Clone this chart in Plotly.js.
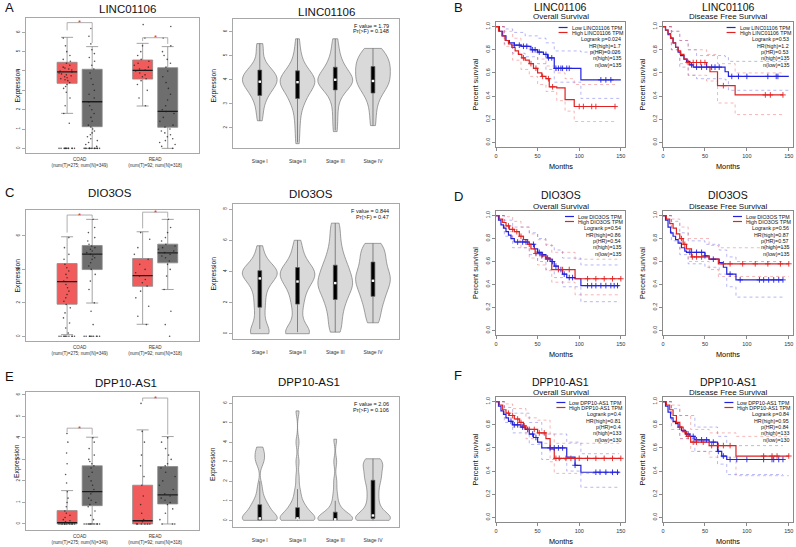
<!DOCTYPE html>
<html><head><meta charset="utf-8">
<script src="https://cdn.plot.ly/plotly-3.0.1.min.js"></script>
<style>body{margin:0;background:#fff}#chart{width:796px;height:547px}</style>
</head><body><div id="chart"></div>
<script>
// ---------------- DATA ----------------
const genes = ['LINC01106','DIO3OS','DPP10-AS1'];
const panelLetters = [['A','B'],['C','D'],['E','F']];
const boxTickText = ['COAD<br>(num(T)=275; num(N)=349)','READ<br>(num(T)=92; num(N)=318)'];
const stageLabels = ['Stage I','Stage II','Stage III','Stage IV'];

// box statistics, [COAD, READ]
const A_T_q1=[3.36,3.58], A_T_med=[3.95,4.03], A_T_q3=[4.45,4.57], A_T_lo=[1.81,2.19], A_T_hi=[5.74,5.43];
const A_N_q1=[1.12,1.09], A_N_med=[2.41,1.91], A_N_q3=[4.09,4.17], A_N_lo=[0,0], A_N_hi=[5.26,5.26];
const C_T_q1=[1.92,2.99], C_T_med=[3.27,3.63], C_T_q3=[4.35,4.65], C_T_lo=[0.1,0.72], C_T_hi=[5.95,6.25];
const C_N_q1=[3.99,4.39], C_N_med=[4.91,4.99], C_N_q3=[5.43,5.51], C_N_lo=[1.99,2.8], C_N_hi=[6.99,6.99];
const E_T_q1=[0,0], E_T_med=[0.06,0.15], E_T_q3=[0.62,1.8], E_T_lo=[0,0], E_T_hi=[1.55,4.37];
const E_N_q1=[0.85,0.93], E_N_med=[1.5,1.35], E_N_q3=[2.7,2.67], E_N_lo=[0,0], E_N_hi=[4.03,4.06];

// jittered sample points (approximate)
const A_CT=[0,0,0,0,0,0,0,0,0,0,0,0,1.3,1.8,2.2,2.6,2.9,3.1,3.2,3.3,3.4,3.5,3.55,3.6,3.65,3.7,3.75,3.8,3.85,3.9,3.95,4.0,4.05,4.1,4.15,4.2,4.3,4.4,4.5,4.6,4.8,5.0,5.3,5.7];
const A_CN=[0,0,0,0,0,0,0,0,0,0,0,0,0.1,0.2,0.3,0.4,0.5,0.6,0.7,0.8,0.9,1.0,1.1,1.2,1.4,1.6,1.8,2.0,2.2,2.4,2.6,2.8,3.0,3.3,3.6,3.9,4.1,4.3,4.5,4.7,4.9,5.1,5.4,5.8,6.2];
const A_RT=[2.2,2.6,3.0,3.3,3.5,3.6,3.7,3.8,3.9,4.0,4.05,4.1,4.2,4.3,4.4,4.5,4.6,4.8,5.0,5.3,5.7,6.4];
const A_RN=[0,0.1,0.2,0.3,0.4,0.5,0.6,0.7,0.8,0.9,1.0,1.1,1.2,1.4,1.6,1.8,1.9,2.0,2.2,2.5,2.8,3.1,3.4,3.7,4.0,4.2,4.4,4.6,4.8,5.0,5.3,5.7,6.3];
const C_CT=[0,0,0,0,0,0,0,0,0,0,0.2,0.5,0.8,1.1,1.4,1.7,1.9,2.1,2.3,2.5,2.7,2.9,3.1,3.3,3.5,3.7,3.9,4.1,4.3,4.6,4.9,5.3,5.9];
const C_CN=[0,0,0,0,0,0,0,0,0,0,0.7,1.5,2.0,2.8,3.3,3.7,4.0,4.2,4.4,4.6,4.7,4.8,4.9,5.0,5.1,5.2,5.3,5.4,5.5,5.7,5.9,6.2,6.5,7.0];
const C_RT=[0.7,1.2,1.8,2.3,2.7,3.0,3.2,3.4,3.6,3.8,4.0,4.3,4.6,4.9,5.3,5.8,6.2];
const C_RN=[0,0.7,1.5,2.8,3.6,4.0,4.3,4.5,4.7,4.8,4.9,5.0,5.1,5.2,5.3,5.4,5.5,5.7,5.9,6.2,6.5,7.0];
const E_CT=[0,0,0,0,0,0,0,0,0,0,0.05,0.1,0.15,0.2,0.3,0.4,0.5,0.6,0.8,1.0,1.2,1.5,1.9,2.3,2.8,3.3,3.8,4.2];
const E_CN=[0,0,0,0,0,0,0,0,0,0,0.2,0.4,0.6,0.8,0.9,1.0,1.1,1.2,1.4,1.5,1.6,1.8,2.0,2.2,2.4,2.6,2.7,2.8,2.9,3.0,3.2,3.5,3.8,4.0];
const E_RT=[0,0,0,0,0,0,0.1,0.2,0.5,0.9,1.3,1.8,2.2,2.7,3.2,3.8,4.3,5.6];
const E_RN=[0,0,0,0.2,0.5,0.7,0.9,1.0,1.1,1.2,1.3,1.4,1.6,1.8,2.0,2.2,2.4,2.6,2.7,2.8,3.0,3.2,3.5,3.8,4.0];

// violin samples per stage
const vA1=[2.3,2.5,2.8,3.0,3.2,3.3,3.4,3.5,3.6,3.65,3.7,3.75,3.8,3.85,3.9,3.95,4.0,4.0,4.05,4.1,4.1,4.15,4.2,4.25,4.3,4.35,4.4,4.5,4.6,4.8,5.2,5.4,5.5];
const vA2=[1.35,1.8,2.2,2.5,2.8,3.0,3.1,3.2,3.3,3.4,3.5,3.6,3.65,3.7,3.75,3.8,3.85,3.9,3.9,3.95,4.0,4.05,4.1,4.15,4.2,4.25,4.3,4.4,4.5,4.6,4.8,5.0,5.3,5.7];
const vA3=[1.85,2.3,2.7,3.1,3.3,3.5,3.6,3.7,3.75,3.8,3.85,3.9,3.95,4.0,4.0,4.05,4.1,4.15,4.2,4.3,4.4,4.5,4.6,4.7,4.9,5.1,5.4,5.7];
const vA4=[2.1,2.6,3.0,3.3,3.45,3.6,3.7,3.8,3.9,3.95,4.0,4.1,4.2,4.3,4.4,4.5,4.55,4.6,4.7,4.8,4.9,5.0,5.1,5.2,5.3];
const vC1=[0,0,0,0,0,0.3,0.6,1.0,1.4,1.7,2.0,2.3,2.6,2.9,3.1,3.3,3.5,3.6,3.7,3.8,3.85,3.9,3.95,4.0,4.05,4.1,4.2,4.3,4.5,4.8,5.2,5.65];
const vC2=[0,0,0,0,0,0.1,0.5,1.0,1.5,1.9,2.2,2.5,2.8,3.0,3.2,3.35,3.5,3.6,3.7,3.8,3.9,4.0,4.1,4.2,4.3,4.5,4.8,5.1,5.5,6.0];
const vC3=[0.1,0.5,1.0,1.4,1.8,2.1,2.3,2.6,2.8,3.0,3.1,3.25,3.4,3.6,3.8,4.0,4.2,4.4,4.7,5.0,5.4,5.9,6.5,7.1];
const vC4=[0.7,1.2,1.7,2.1,2.4,2.7,3.0,3.2,3.4,3.6,3.8,4.0,4.3,4.6,4.9,5.2,5.5,5.8];
const vE1=[0,0,0,0,0,0,0.05,0.1,0.15,0.2,0.3,0.4,0.5,0.6,0.7,0.8,0.9,1.1,1.4,1.8,2.9,3.1,3.3,3.5,3.75];
const vE2=[0,0,0,0,0,0,0.05,0.1,0.15,0.2,0.3,0.4,0.5,0.6,0.7,0.8,1.0,1.3,1.6,2.2,3.0,4.0,5.6];
const vE3=[0,0,0,0,0,0,0.02,0.05,0.1,0.15,0.2,0.3,0.4,0.5,0.7,1.0,1.4,2.0,3.0,4.15];
const vE4=[0,0,0,0.05,0.1,0.2,0.3,0.5,0.7,1.0,1.3,1.6,1.9,2.1,2.3,2.5,2.7,2.9,3.0,3.15];
// inner box of each violin: q1, median, q3, whisker low, whisker high
const vA_q1=[3.35,3.22,3.58,3.45], vA_med=[3.92,3.9,4.0,3.95], vA_q3=[4.4,4.37,4.52,4.55], vA_lo=[2.3,1.4,1.9,2.1], vA_hi=[5.5,5.7,5.7,5.3];
const vC_q1=[1.7,1.9,2.2,2.4], vC_med=[3.55,3.35,3.25,3.4], vC_q3=[4.05,4.25,4.4,4.6], vC_lo=[0.3,0.1,0.1,0.7], vC_hi=[5.65,6.0,7.1,5.8];
const vE_q1=[0.02,0.1,0.02,0.1], vE_med=[0.1,0.1,0.05,0.25], vE_q3=[0.8,0.65,0.42,2.05], vE_lo=[0,0,0,0], vE_hi=[2.0,1.6,1.0,3.15];
const fText=[['F value = 1.79','Pr(>F) = 0.148'],['F value = 0.844','Pr(>F) = 0.47'],['F value = 2.06','Pr(>F) = 0.106']];

// Kaplan-Meier curves (months, survival)
const B_OS_low_t=[0,4,8,12,16,22,30,42,50,57,62,70,102,150];
const B_OS_low_s=[1,0.96,0.92,0.88,0.86,0.84,0.83,0.80,0.78,0.76,0.73,0.64,0.54,0.54];
const B_OS_high_t=[0,3,7,11,15,19,23,27,31,35,40,45,50,55,60,64,73,83,94,143];
const B_OS_high_s=[1,0.96,0.92,0.88,0.85,0.82,0.79,0.76,0.73,0.71,0.68,0.64,0.60,0.57,0.55,0.48,0.47,0.37,0.31,0.31];
const B_DFS_low_t=[0,3,6,9,12,15,18,21,25,28,32,36,74,78,150];
const B_DFS_low_s=[1,0.97,0.93,0.9,0.86,0.82,0.78,0.75,0.72,0.7,0.67,0.65,0.61,0.57,0.57];
const B_DFS_high_t=[0,3,6,9,12,15,18,21,25,29,52,56,65,86,143];
const B_DFS_high_s=[1,0.97,0.94,0.9,0.86,0.82,0.79,0.76,0.72,0.69,0.65,0.61,0.49,0.41,0.41];
const D_OS_low_t=[0,3,6,9,12,15,18,22,40,46,50,55,60,65,70,75,80,85,95,102,148];
const D_OS_low_s=[1,0.96,0.92,0.89,0.86,0.83,0.80,0.77,0.75,0.71,0.68,0.66,0.63,0.60,0.56,0.53,0.49,0.46,0.45,0.39,0.39];
const D_OS_high_t=[0,4,8,12,16,22,28,33,38,42,47,55,60,67,95,150];
const D_OS_high_s=[1,0.97,0.94,0.91,0.88,0.86,0.82,0.79,0.75,0.71,0.67,0.65,0.62,0.53,0.45,0.45];
const D_DFS_low_t=[0,3,6,9,12,15,18,22,26,28,50,55,67,72,76,87,143];
const D_DFS_low_s=[1,0.96,0.9,0.85,0.82,0.79,0.76,0.72,0.69,0.68,0.65,0.62,0.59,0.55,0.49,0.44,0.44];
const D_DFS_high_t=[0,4,8,12,16,20,24,28,34,55,66,150];
const D_DFS_high_s=[1,0.97,0.93,0.89,0.84,0.8,0.75,0.71,0.64,0.62,0.58,0.58];
const F_OS_low_t=[0,3,6,9,12,15,20,30,35,40,45,50,55,85,95,102,148];
const F_OS_low_s=[1,0.96,0.92,0.89,0.86,0.83,0.8,0.78,0.76,0.72,0.69,0.65,0.6,0.52,0.45,0.39,0.39];
const F_OS_high_t=[0,4,8,12,16,22,28,33,36,50,60,65,70,150];
const F_OS_high_s=[1,0.97,0.93,0.9,0.88,0.85,0.82,0.79,0.76,0.73,0.68,0.59,0.51,0.51];
const F_DFS_low_t=[0,3,6,9,12,15,18,22,27,32,38,55,65,70,76,143];
const F_DFS_low_s=[1,0.96,0.91,0.86,0.83,0.81,0.78,0.75,0.72,0.7,0.67,0.65,0.57,0.53,0.5,0.5];
const F_DFS_high_t=[0,4,8,12,16,20,24,28,33,55,87,150];
const F_DFS_high_s=[1,0.97,0.93,0.88,0.82,0.78,0.74,0.7,0.65,0.62,0.53,0.53];

// 95% confidence bands
const B_OS_ciL_t=[0,10,20,35,50,60,70,102,150], B_OS_ciL_up=[1,0.98,0.95,0.92,0.9,0.86,0.79,0.78,0.78], B_OS_ciL_dn=[1,0.85,0.77,0.74,0.68,0.63,0.52,0.38,0.38];
const B_OS_ciH_t=[0,10,20,30,40,50,60,73,83,94,143], B_OS_ciH_up=[1,0.96,0.9,0.84,0.78,0.72,0.66,0.6,0.55,0.5,0.5], B_OS_ciH_dn=[1,0.83,0.71,0.63,0.57,0.5,0.44,0.36,0.27,0.18,0.18];
const B_DFS_ciL_t=[0,10,20,30,40,74,78,150], B_DFS_ciL_up=[1,0.96,0.88,0.8,0.75,0.74,0.7,0.7], B_DFS_ciL_dn=[1,0.8,0.65,0.58,0.55,0.54,0.45,0.45];
const B_DFS_ciH_t=[0,10,20,30,52,65,86,143], B_DFS_ciH_up=[1,0.96,0.88,0.8,0.76,0.68,0.6,0.6], B_DFS_ciH_dn=[1,0.8,0.68,0.58,0.53,0.34,0.24,0.24];
const D_OS_ciL_t=[0,10,20,40,50,60,70,80,102,148], D_OS_ciL_up=[1,0.96,0.9,0.85,0.8,0.74,0.7,0.63,0.57,0.57], D_OS_ciL_dn=[1,0.82,0.72,0.66,0.6,0.53,0.46,0.38,0.25,0.25];
const D_OS_ciH_t=[0,10,20,30,40,50,60,67,95,150], D_OS_ciH_up=[1,0.99,0.95,0.9,0.84,0.79,0.75,0.68,0.62,0.62], D_OS_ciH_dn=[1,0.86,0.78,0.72,0.63,0.57,0.52,0.42,0.31,0.31];
const D_DFS_ciL_t=[0,10,20,30,50,67,76,87,143], D_DFS_ciL_up=[1,0.95,0.85,0.78,0.75,0.7,0.64,0.6,0.6], D_DFS_ciL_dn=[1,0.78,0.66,0.58,0.55,0.49,0.38,0.29,0.29];
const D_DFS_ciH_t=[0,10,20,30,55,66,150], D_DFS_ciH_up=[1,0.97,0.9,0.8,0.74,0.72,0.72], D_DFS_ciH_dn=[1,0.84,0.71,0.6,0.53,0.47,0.47];
const F_OS_ciL_t=[0,10,20,40,55,85,102,148], F_OS_ciL_up=[1,0.95,0.9,0.82,0.72,0.65,0.55,0.55], F_OS_ciL_dn=[1,0.82,0.73,0.63,0.5,0.4,0.26,0.26];
const F_OS_ciH_t=[0,10,20,36,50,65,70,150], F_OS_ciH_up=[1,0.98,0.94,0.86,0.84,0.72,0.64,0.64], F_OS_ciH_dn=[1,0.86,0.78,0.68,0.64,0.48,0.38,0.38];
const F_DFS_ciL_t=[0,10,20,38,65,76,143], F_DFS_ciL_up=[1,0.94,0.88,0.78,0.7,0.62,0.62], F_DFS_ciL_dn=[1,0.76,0.68,0.57,0.46,0.37,0.37];
const F_DFS_ciH_t=[0,10,20,33,55,87,150], F_DFS_ciH_up=[1,0.97,0.88,0.76,0.73,0.7,0.7], F_DFS_ciH_dn=[1,0.82,0.68,0.57,0.52,0.36,0.36];

// censor times
const B_OS_cL=[22,28,33,37,44,47,52,60,63,67,72,75,78,80,85,88,126,132,138];
const B_OS_cH=[33,42,48,56,63,68,100,105,115,120,143];
const B_DFS_cL=[34,40,46,52,58,62,67,82,90,100,125,135,137];
const B_DFS_cH=[30,36,40,45,50,72,122,128,143];
const D_OS_cL=[26,32,36,45,52,56,62,68,72,78,82,88,92,110,115,120,126,132,138,142,146];
const D_OS_cH=[15,20,25,30,40,48,55,62,75,80,88,110,120,130,140,150];
const D_DFS_cL=[32,40,46,50,60,80,92,115,120,126,132,138,143];
const D_DFS_cH=[22,26,35,40,46,72,80,95,110,125,140,150];
const F_OS_cL=[18,22,26,32,38,44,48,65,70,75,80,95,120,125,132,140,146];
const F_OS_cH=[15,20,26,30,34,40,46,52,58,72,76,84,90,100,110,120,130,140,150];
const F_DFS_cL=[30,36,40,46,52,60,66,72,80,88,100,120,130,132,138,143];
const F_DFS_cH=[20,26,30,36,40,48,58,66,72,80,120,130,136,150];

const kmStats = [
 [['Logrank p=0.024','HR(high)=1.7','p(HR)=0.026','n(high)=135','n(low)=135'],['Logrank p=0.53','HR(high)=1.2','p(HR)=0.53','n(high)=135','n(low)=135']],
 [['Logrank p=0.54','HR(high)=0.86','p(HR)=0.54','n(high)=135','n(low)=135'],['Logrank p=0.56','HR(high)=0.87','p(HR)=0.57','n(high)=135','n(low)=135']],
 [['Logrank p=0.4','HR(high)=0.81','p(HR)=0.4','n(high)=133','n(low)=130'],['Logrank p=0.84','HR(high)=0.95','p(HR)=0.84','n(high)=133','n(low)=130']]
];

// ---------------- LAYOUT GEOMETRY ----------------
const W=796,H=547;
const FONT='Liberation Sans, Arial, sans-serif';
const geom = {
  box:[{l:26,r:199,t:18,b:153},{l:26,r:199,t:210,b:341},{l:26,r:199,t:392,b:530}],
  vio:[{l:233,r:399,t:19,b:148},{l:233,r:399,t:204,b:339},{l:233,r:399,t:397,b:527}],
  os:[{l:496,r:625,t:22,b:147},{l:496,r:625,t:211,b:335},{l:496,r:625,t:397,b:522}],
  dfs:[{l:663,r:793,t:22,b:147},{l:663,r:793,t:211,b:335},{l:663,r:793,t:397,b:522}]
};
const boxYRange=[[-0.24,6.74],[-0.28,7.55],[-0.28,6.13]];
const boxYTicks=[[0,1,2,3,4,5,6],[0,2,4,6],[0,1,2,3,4,5,6]];
const vioYRange=[[1.17,6.52],[-0.34,8.33],[-0.34,6.31]];
const vioYTicks=[[2,3,4,5,6],[0,2,4,6,8],[0,1,2,3,4,5,6]];
const OFF=0.166, BW=0.265;

const xd=(g)=>[g.l/W,g.r/W];
const yd=(g)=>[1-g.b/H,1-g.t/H];
const px2x=(p)=>p/W, px2y=(p)=>1-p/H;

const traces=[]; const layout={
  width:W,height:H,margin:{l:0,r:0,t:0,b:0},paper_bgcolor:'#fff',plot_bgcolor:'#fff',
  showlegend:false,boxmode:'overlay',violinmode:'overlay',font:{family:FONT,color:'#222'},
  annotations:[],shapes:[]
};
function axName(n){return n===1?'':String(n);}
function ann(x,y,text,size,opts){layout.annotations.push(Object.assign({xref:'paper',yref:'paper',x:px2x(x),y:px2y(y),text:text,showarrow:false,font:{size:size,family:FONT,color:'#111'},xanchor:'center',yanchor:'middle',borderpad:0},opts||{}));}

const boxData=[
 {Tq1:A_T_q1,Tmed:A_T_med,Tq3:A_T_q3,Tlo:A_T_lo,Thi:A_T_hi,Nq1:A_N_q1,Nmed:A_N_med,Nq3:A_N_q3,Nlo:A_N_lo,Nhi:A_N_hi,pts:[A_CT,A_CN,A_RT,A_RN],
  br:[[6.5,6.1,5.45],[5.72,5.55,5.4]]},
 {Tq1:C_T_q1,Tmed:C_T_med,Tq3:C_T_q3,Tlo:C_T_lo,Thi:C_T_hi,Nq1:C_N_q1,Nmed:C_N_med,Nq3:C_N_q3,Nlo:C_N_lo,Nhi:C_N_hi,pts:[C_CT,C_CN,C_RT,C_RN],
  br:[[7.25,6.2,7.08],[7.42,6.45,7.1]]},
 {Tq1:E_T_q1,Tmed:E_T_med,Tq3:E_T_q3,Tlo:E_T_lo,Thi:E_T_hi,Nq1:E_N_q1,Nmed:E_N_med,Nq3:E_N_q3,Nlo:E_N_lo,Nhi:E_N_hi,pts:[E_CT,E_CN,E_RT,E_RN],
  br:[[4.45,4.25,4.15],[5.85,5.7,4.15]]}
];
const vioData=[[vA1,vA2,vA3,vA4],[vC1,vC2,vC3,vC4],[vE1,vE2,vE3,vE4]];
const vioBox=[[vA_q1,vA_med,vA_q3,vA_lo,vA_hi],[vC_q1,vC_med,vC_q3,vC_lo,vC_hi],[vE_q1,vE_med,vE_q3,vE_lo,vE_hi]];
const vioBw=[0.32,0.5,0.28];
const km=[
 [{lt:B_OS_low_t,ls:B_OS_low_s,ht:B_OS_high_t,hs:B_OS_high_s,ciL:[B_OS_ciL_t,B_OS_ciL_up,B_OS_ciL_dn],ciH:[B_OS_ciH_t,B_OS_ciH_up,B_OS_ciH_dn],cL:B_OS_cL,cH:B_OS_cH},
  {lt:B_DFS_low_t,ls:B_DFS_low_s,ht:B_DFS_high_t,hs:B_DFS_high_s,ciL:[B_DFS_ciL_t,B_DFS_ciL_up,B_DFS_ciL_dn],ciH:[B_DFS_ciH_t,B_DFS_ciH_up,B_DFS_ciH_dn],cL:B_DFS_cL,cH:B_DFS_cH}],
 [{lt:D_OS_low_t,ls:D_OS_low_s,ht:D_OS_high_t,hs:D_OS_high_s,ciL:[D_OS_ciL_t,D_OS_ciL_up,D_OS_ciL_dn],ciH:[D_OS_ciH_t,D_OS_ciH_up,D_OS_ciH_dn],cL:D_OS_cL,cH:D_OS_cH},
  {lt:D_DFS_low_t,ls:D_DFS_low_s,ht:D_DFS_high_t,hs:D_DFS_high_s,ciL:[D_DFS_ciL_t,D_DFS_ciL_up,D_DFS_ciL_dn],ciH:[D_DFS_ciH_t,D_DFS_ciH_up,D_DFS_ciH_dn],cL:D_DFS_cL,cH:D_DFS_cH}],
 [{lt:F_OS_low_t,ls:F_OS_low_s,ht:F_OS_high_t,hs:F_OS_high_s,ciL:[F_OS_ciL_t,F_OS_ciL_up,F_OS_ciL_dn],ciH:[F_OS_ciH_t,F_OS_ciH_up,F_OS_ciH_dn],cL:F_OS_cL,cH:F_OS_cH},
  {lt:F_DFS_low_t,ls:F_DFS_low_s,ht:F_DFS_high_t,hs:F_DFS_high_s,ciL:[F_DFS_ciL_t,F_DFS_ciL_up,F_DFS_ciL_dn],ciH:[F_DFS_ciH_t,F_DFS_ciH_up,F_DFS_ciH_dn],cL:F_DFS_cL,cH:F_DFS_cH}]
];
function stepAt(ts,ss,t){let v=ss[0];for(let i=0;i<ts.length;i++){if(ts[i]<=t)v=ss[i];}return v;}

const RED='#F25B5B', GREY='#6E6E6E', FRAME='#A8A8A8';
const BLUE_L='#2222DD', RED_L='#E02222';

const canvas=document.createElement('canvas'); const ctx=canvas.getContext('2d');
function textW(t,size){ctx.font=size+'px "Liberation Sans"';return ctx.measureText(t).width;}

for(let r=0;r<3;r++){
  // ---- box panel ----
  let n=r*4+1, xa='x'+axName(n), ya='y'+axName(n), g=geom.box[r], d=boxData[r];
  layout['xaxis'+axName(n)]={domain:xd(g),anchor:ya,range:[0.29,2.58],showline:true,mirror:true,linecolor:FRAME,linewidth:1,
    ticks:'',showgrid:false,zeroline:false,tickvals:[1,2],ticktext:boxTickText,tickfont:{size:4.6,color:'#333'},ticklabelstandoff:1};
  layout['yaxis'+axName(n)]={domain:yd(g),anchor:xa,range:boxYRange[r],showline:true,mirror:true,linecolor:FRAME,linewidth:1,
    ticks:'outside',ticklen:3,tickcolor:FRAME,showgrid:false,zeroline:false,tickvals:boxYTicks[r],tickangle:-90,tickfont:{size:4.6,color:'#333'}};
  const xs=[[1-OFF,2-OFF],[1+OFF,2+OFF]];
  [['T',RED],['N',GREY]].forEach((k,j)=>{
    traces.push({type:'box',xaxis:xa,yaxis:ya,x:xs[j],q1:d[k[0]+'q1'],median:d[k[0]+'med'],q3:d[k[0]+'q3'],lowerfence:d[k[0]+'lo'],upperfence:d[k[0]+'hi'],
      width:BW,fillcolor:k[1],line:{color:'#8C8C8C',width:0.8},whiskerwidth:0.6,boxpoints:false,hoverinfo:'skip'});
  });
  d.pts.forEach((p,i)=>{
    const pos=[1-OFF,1+OFF,2-OFF,2+OFF][i];
    traces.push({type:'box',xaxis:xa,yaxis:ya,x0:pos,y:p,width:BW,boxpoints:'all',jitter:0.95,pointpos:0,
      marker:{size:1.6,color:'rgba(30,30,30,0.75)'},line:{width:0,color:'rgba(0,0,0,0)'},fillcolor:'rgba(0,0,0,0)',hoverinfo:'skip'});
  });
  [['T'],['N']].forEach((k,j)=>{
    traces.push({type:'box',xaxis:xa,yaxis:ya,x:xs[j],q1:d[k[0]+'med'],median:d[k[0]+'med'],q3:d[k[0]+'med'],lowerfence:d[k[0]+'med'],upperfence:d[k[0]+'med'],
      width:BW,fillcolor:'rgba(0,0,0,0)',line:{color:'#1a1a1a',width:1.3},whiskerwidth:0,boxpoints:false,hoverinfo:'skip'});
  });
  d.br.forEach((b,gi)=>{
    const x0=gi+1-OFF, x1=gi+1+OFF;
    layout.shapes.push({type:'path',xref:xa,yref:ya,path:`M${x0},${b[1]} L${x0},${b[0]} L${x1},${b[0]} L${x1},${b[2]}`,line:{color:'#9A9A9A',width:0.8}});
    layout.annotations.push({xref:xa,yref:ya,x:gi+1,y:b[0],text:'*',showarrow:false,font:{size:8,color:'#E03030'},yanchor:'middle'});
  });

  // ---- violin panel ----
  n=r*4+2; xa='x'+axName(n); ya='y'+axName(n); g=geom.vio[r];
  layout['xaxis'+axName(n)]={domain:xd(g),anchor:ya,range:[0.29,4.69],showline:true,mirror:true,linecolor:FRAME,linewidth:1,
    ticks:'',showgrid:false,zeroline:false,tickvals:[1,2,3,4],ticktext:stageLabels,tickfont:{size:5,color:'#333'},ticklabelstandoff:8};
  layout['yaxis'+axName(n)]={domain:yd(g),anchor:xa,range:vioYRange[r],showline:true,mirror:true,linecolor:FRAME,linewidth:1,
    ticks:'outside',ticklen:3,tickcolor:FRAME,showgrid:false,zeroline:false,tickvals:vioYTicks[r],tickangle:-90,tickfont:{size:4.6,color:'#333'}};
  vioData[r].forEach((v,i)=>{
    traces.push({type:'violin',xaxis:xa,yaxis:ya,x0:i+1,y:v,width:0.92,spanmode:'hard',bandwidth:vioBw[r],scalemode:'width',
      fillcolor:'#D9D9D9',line:{color:'#7A7A7A',width:0.7},points:false,box:{visible:false},meanline:{visible:false},hoverinfo:'skip'});
  });
  const vb=vioBox[r];
  traces.push({type:'box',xaxis:xa,yaxis:ya,x:[1,2,3,4],q1:vb[0],median:vb[1],q3:vb[2],lowerfence:vb[3],upperfence:vb[4],width:0.1,
    fillcolor:'#000',line:{color:'#5A5A5A',width:0.7},whiskerwidth:0,boxpoints:false,hoverinfo:'skip'});
  traces.push({type:'scatter',xaxis:xa,yaxis:ya,x:[1,2,3,4],y:vb[1],mode:'markers',marker:{symbol:'square',size:2.4,color:'#fff'},hoverinfo:'skip'});
  ann(g.r-9,g.t+6.5,fText[r][0],5.5,{xanchor:'right'});
  ann(g.r-9,g.t+12.5,fText[r][1],5.5,{xanchor:'right'});

  // ---- KM panels ----
  ['os','dfs'].forEach((kind,c)=>{
    n=r*4+3+c; xa='x'+axName(n); ya='y'+axName(n); g=geom[kind][r]; const k=km[r][c];
    layout['xaxis'+axName(n)]={domain:xd(g),anchor:ya,range:[0,155],showline:true,mirror:true,linecolor:'#8A8A8A',linewidth:1,
      ticks:'outside',ticklen:3,tickcolor:'#8A8A8A',showgrid:false,zeroline:false,tickvals:[0,50,100,150],tickfont:{size:5.5,color:'#333'}};
    layout['yaxis'+axName(n)]={domain:yd(g),anchor:xa,range:[-0.04,1.04],showline:true,mirror:true,linecolor:'#8A8A8A',linewidth:1,
      ticks:'outside',ticklen:3,tickcolor:'#8A8A8A',showgrid:false,zeroline:false,tickvals:[0,0.2,0.4,0.6,0.8,1],ticktext:['0.0','0.2','0.4','0.6','0.8','1.0'],tickangle:-90,tickfont:{size:5.5,color:'#333'}};
    [[k.ciL,'rgba(90,90,235,0.55)'],[k.ciH,'rgba(235,90,90,0.55)']].forEach(ci=>{
      [1,2].forEach(j=>traces.push({type:'scatter',xaxis:xa,yaxis:ya,x:ci[0][0],y:ci[0][j],mode:'lines',line:{shape:'hv',dash:'dot',width:0.8,color:ci[1]},hoverinfo:'skip'}));
    });
    traces.push({type:'scatter',xaxis:xa,yaxis:ya,x:k.lt,y:k.ls,mode:'lines',line:{shape:'hv',width:1.2,color:BLUE_L},hoverinfo:'skip'});
    traces.push({type:'scatter',xaxis:xa,yaxis:ya,x:k.ht,y:k.hs,mode:'lines',line:{shape:'hv',width:1.2,color:RED_L},hoverinfo:'skip'});
    traces.push({type:'scatter',xaxis:xa,yaxis:ya,x:k.cL,y:k.cL.map(t=>stepAt(k.lt,k.ls,t)),mode:'markers',marker:{symbol:'cross-thin',size:4,line:{width:0.9,color:BLUE_L},color:BLUE_L},hoverinfo:'skip'});
    traces.push({type:'scatter',xaxis:xa,yaxis:ya,x:k.cH,y:k.cH.map(t=>stepAt(k.ht,k.hs,t)),mode:'markers',marker:{symbol:'cross-thin',size:4,line:{width:0.9,color:RED_L},color:RED_L},hoverinfo:'skip'});
    const right=g.r-3, fs=5.3;
    const lowT='Low '+genes[r]+' TPM', highT='High '+genes[r]+' TPM';
    const tw=Math.max(textW(lowT,fs),textW(highT,fs));
    const rows=[5.5,10.5,17.2,23.6,30,36.4,42.8];
    [[lowT,BLUE_L],[highT,RED_L]].forEach((it,j)=>{
      ann(right-tw,g.t+rows[j],it[0],fs,{xanchor:'left'});
      layout.shapes.push({type:'line',xref:'paper',yref:'paper',x0:px2x(right-tw-12),x1:px2x(right-tw-3),y0:px2y(g.t+rows[j]),y1:px2y(g.t+rows[j]),line:{color:it[1],width:1.2}});
    });
    kmStats[r][c].forEach((s,j)=>ann(right,g.t+rows[j+2],s,fs,{xanchor:'right'}));
    const cx=(g.l+g.r)/2;
    ann(cx,g.t-15.5,genes[r],10.5,{});
    ann(cx,g.t-5,c===0?'Overall Survival':'Disease Free Survival',8,{});
    ann(cx,g.b+19,'Months',7.3,{font:{size:7.3,family:FONT,color:'#000'}});
    ann(g.l-21,(g.t+g.b)/2,'Percent survival',7.3,{textangle:-90});
  });

  const gb=geom.box[r], gv=geom.vio[r];
  ann([127,110,126][r],[9,193,383][r],genes[r],11.5,{});
  ann([326,311,309][r],[11.5,194,381.5][r],genes[r],11.5,{});
  ann(17,(gb.t+gb.b)/2,'Expression',6.8,{textangle:-90});
  ann(213,(gv.t+gv.b)/2+2,'Expression',6.8,{textangle:-90});
  ann(9,[8,193,376][r],panelLetters[r][0],13,{});
  ann(458,[8,196,375][r],panelLetters[r][1],13,{});
}

Plotly.newPlot('chart',traces,layout,{staticPlot:true,displayModeBar:false});
</script></body></html>
